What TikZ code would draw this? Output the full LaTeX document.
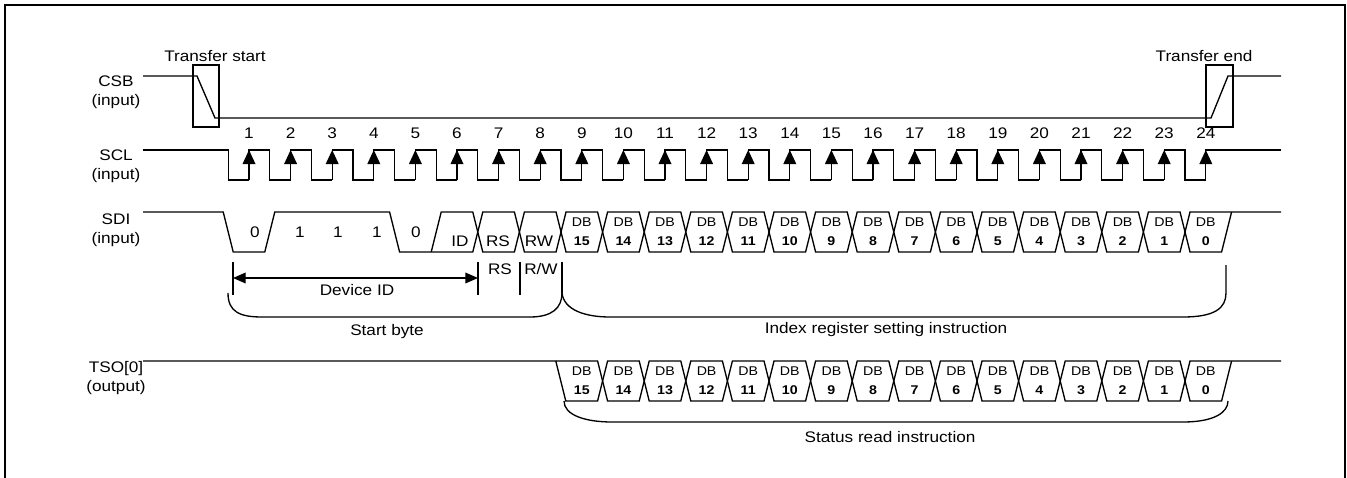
\documentclass[tikz,border=0pt]{standalone}
\usepackage{fontspec}
\setmainfont[FakeStretch=1.12]{Liberation Sans}
\usetikzlibrary{arrows.meta}
\tikzset{
  wave/.style={line width=1pt},
  lbl/.style={align=center, font=\fontsize{11.5}{14.25}\selectfont, inner sep=0pt},
  bit/.style={font=\fontsize{11.5}{14}\selectfont, inner sep=0pt},
  dbcell/.style={align=center, font=\fontsize{9.5}{14.25}\selectfont, inner sep=0pt},
  idarrow/.style={wave, {Triangle[length=9.5pt,width=8pt]}-{Triangle[length=9.5pt,width=8pt]}},
}
\begin{document}
\begin{tikzpicture}[x=0.75pt,y=-0.75pt]
    \useasboundingbox (0,0) rectangle (1347,478);
    \draw[line width=1.8pt] (5,490) -- (5,5) -- (1345,5) -- (1345,490);

    \node[lbl] (csb) at (116,92) {CSB\\(input)};
    \node[lbl] (scl) at (116,166) {SCL\\(input)};
    \node[lbl] (sdi) at (116,230) {SDI\\(input)};
    \node[lbl] (tso) at (116,378) {TSO[0]\\(output)};

    \draw[wave] (143,76) -- (197,76) -- (215,118) -- (1211,118) -- (1228,76) -- (1281,76);
    \draw[wave] (193,65) rectangle (219,127);
    \draw[wave] (1206,65) rectangle (1233,127);
    \node[lbl] (tstart) at (215,56) {Transfer start};
    \node[lbl] (tend) at (1204,56) {Transfer end};

    \draw[wave] (143,150) -- (228.2,150) -- (228.2,180) -- (249,180);
    \foreach \k in {1,...,23} {
        \pgfmathsetmacro{\rx}{249+(\k-1)*41.6}
        \pgfmathsetmacro{\fx}{\rx+20.8}
        \pgfmathsetmacro{\nx}{\rx+41.6}
        \draw[wave] (\rx,180) -- (\rx,150) -- (\fx,150) -- (\fx,180) -- (\nx,180);
        \fill (\rx,150) -- (\rx-6.5,164) -- (\rx+6.5,164) -- cycle;
        \node[bit] (n\k) at (\rx,133) {\k};
    }
    \draw[wave] (1205.8,180) -- (1205.8,150) -- (1281,150);
    \fill (1205.8,150) -- (1199.3,164) -- (1212.3,164) -- cycle;
    \node[bit] (n24) at (1205.8,133) {24};

    \draw[wave] (143,212) -- (223.2,212) -- (233.2,252) -- (264.8,252) -- (274.8,212) -- (389.6,212) -- (399.6,252) -- (472.8,252) -- (477.8,232);
    \draw[wave] (431.2,252) -- (441.2,212) -- (472.8,212) -- (477.8,232);
    \foreach \k in {7,...,23} {
        \pgfmathsetmacro{\fx}{228.2+(\k-1)*41.6}
        \pgfmathsetmacro{\gx}{\fx+41.6}
        \draw[wave] (\fx,232) -- (\fx+5,212) -- (\gx-5,212) -- (\gx,232) -- (\gx-5,252) -- (\fx+5,252) -- cycle;
    }
    \draw[wave] (1185,232) -- (1190,212) -- (1281,212);
    \draw[wave] (1185,232) -- (1190,252) -- (1221.6,252) -- (1231.6,212);
    \node[bit] (b1) at (255,232) {0};
    \node[bit] (b2) at (300,232) {1};
    \node[bit] (b3) at (338,232) {1};
    \node[bit] (b4) at (377,232) {1};
    \node[bit] (b5) at (416,232) {0};
    \node[bit] (bid) at (460,241) {ID};
    \node[bit] (brs) at (498,241) {RS};
    \node[bit] (brw) at (539,241) {RW};

    \draw[wave] (143,361) -- (555.8,361) -- (565.8,401) -- (597.6,401) -- (602.6,381);
    \draw[wave] (555.8,361) -- (597.6,361) -- (602.6,381);
    \foreach \k in {10,...,23} {
        \pgfmathsetmacro{\fx}{228.2+(\k-1)*41.6}
        \pgfmathsetmacro{\gx}{\fx+41.6}
        \draw[wave] (\fx,381) -- (\fx+5,361) -- (\gx-5,361) -- (\gx,381) -- (\gx-5,401) -- (\fx+5,401) -- cycle;
    }
    \draw[wave] (1185,381) -- (1190,361) -- (1281,361);
    \draw[wave] (1185,381) -- (1190,401) -- (1221.6,401) -- (1231.6,361);

    \foreach \k in {9,...,24} {
        \pgfmathsetmacro{\rx}{249+(\k-1)*41.6}
        \pgfmathtruncatemacro{\d}{24-\k}
        \node[dbcell] (s\k) at (\rx,232) {DB\\\textbf{\d}};
        \node[dbcell] (t\k) at (\rx,381) {DB\\\textbf{\d}};
    }

    \draw[wave] (233,262) -- (233,295);
    \draw[wave] (478,262) -- (478,295);
    \draw[wave] (520,262) -- (520,295);
    \draw[wave] (562,262) -- (562,293);
    \coordinate (idl) at (233,278);
    \coordinate (idr) at (478,278);
    \draw[idarrow] (idl) -- (idr);
    \node[lbl] (devid) at (357,290) {Device ID};
    \node[lbl] (rs) at (500,269) {RS};
    \node[lbl] (rw) at (541,269) {R/W};

    \draw[wave] (228,293) .. controls (228,312) and (240,317) .. (262,317) -- (530,317) .. controls (552,317) and (562,308) .. (562,293);
    \node[lbl] (sbyte) at (387,332) {Start byte};
    \draw[wave] (562,293) .. controls (564,310) and (585,317) .. (610,317) -- (1183,317) .. controls (1215,317) and (1226,308) .. (1226,293) -- (1226,265);
    \node[lbl] (idx) at (886,330) {Index register setting instruction};

    \draw[wave] (564,401) .. controls (564,415) and (585,422) .. (612,422) -- (1183,422) .. controls (1215,422) and (1228,412) .. (1228,401);
    \node[lbl] (sread) at (890,437) {Status read instruction};
\end{tikzpicture}
\end{document}
